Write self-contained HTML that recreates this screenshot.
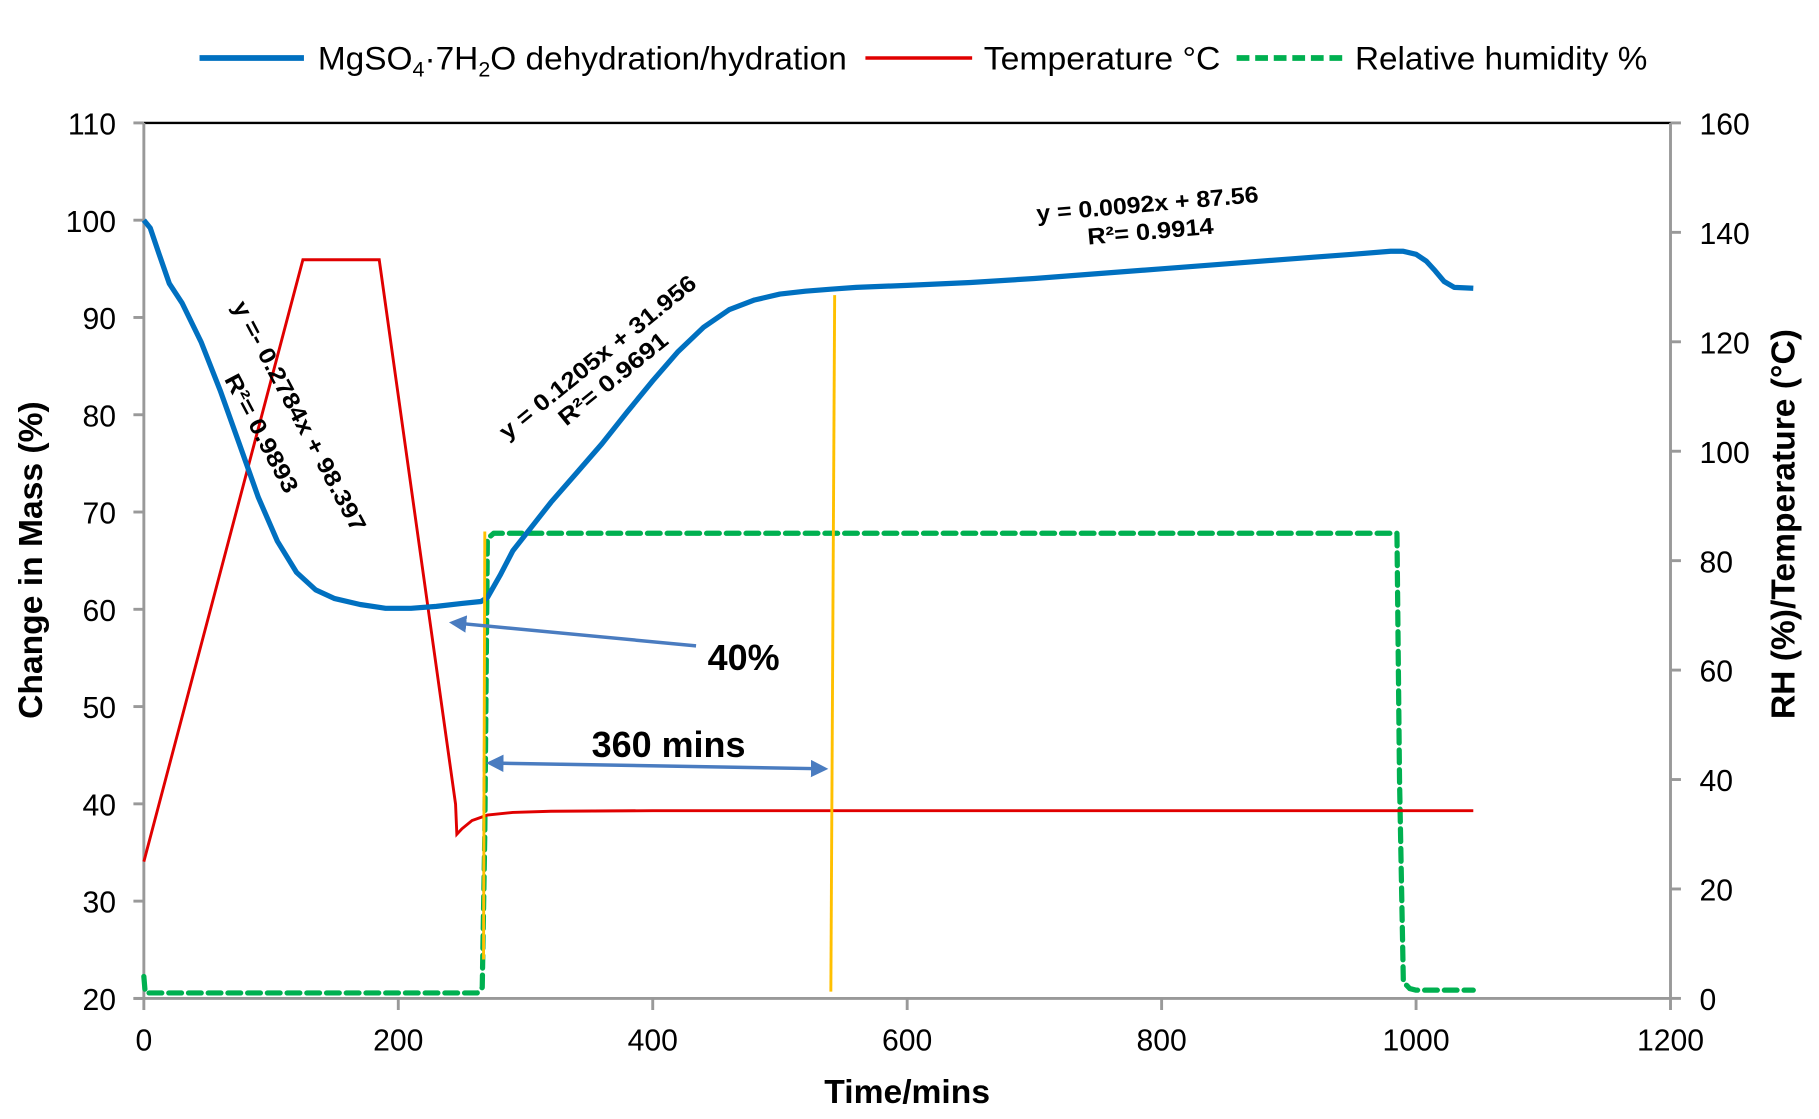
<!DOCTYPE html>
<html><head><meta charset="utf-8"><style>
html,body{margin:0;padding:0;background:#fff;}
svg{display:block;font-family:"Liberation Sans",Arial,sans-serif;}
</style></head><body>
<svg id="chart" width="1819" height="1119" viewBox="0 0 1568 965" preserveAspectRatio="none" xmlns="http://www.w3.org/2000/svg">
<defs>
<marker id="ah" viewBox="0 0 10 10" refX="8" refY="5" markerWidth="5" markerHeight="5" orient="auto-start-reverse"><path d="M0,0 L10,5 L0,10 z" fill="#4a7cc0"/></marker>
</defs>
<g id="legend">
<g><line x1="172" y1="50" x2="262" y2="50" stroke="#0070c0" stroke-width="5"/><text x="274" y="60" font-size="28" textLength="456" lengthAdjust="spacingAndGlyphs">MgSO<tspan font-size="18" dy="6">4</tspan><tspan dy="-6">·7H</tspan><tspan font-size="18" dy="6">2</tspan><tspan dy="-6">O dehydration/hydration</tspan></text></g>
<g><line x1="746" y1="50" x2="838" y2="50" stroke="#e00000" stroke-width="3"/><text x="848" y="60" font-size="28" textLength="204" lengthAdjust="spacingAndGlyphs">Temperature °C</text></g>
<g><line x1="1066" y1="50" x2="1158" y2="50" stroke="#00b050" stroke-width="5" stroke-dasharray="11,5"/><text x="1168" y="60" font-size="28" textLength="252" lengthAdjust="spacingAndGlyphs">Relative humidity %</text></g>
</g>
<g id="axes"></g>
<g id="series"></g>
<g id="annot"></g>
</svg>
<script>
const timeTicks=[0,200,400,600,800,1000,1200];
const massTicks=[20,30,40,50,60,70,80,90,100,110];
const rightTicks=[0,20,40,60,80,100,120,140,160];
const massT=[0,5,12,20,30,45,60,75,90,105,120,135,150,170,190,210,230,250,265,270,280,290,305,320,340,360,380,400,420,440,460,480,500,520,540,560,600,650,700,750,800,850,900,950,980,990,1000,1008,1015,1022,1030,1045];
const massV=[100,99.2,96.5,93.5,91.5,87.5,82.5,77,71.5,67,63.8,62,61.1,60.5,60.1,60.1,60.3,60.6,60.8,61.2,63.5,66,68.5,71,74,77,80.3,83.5,86.5,89,90.8,91.8,92.4,92.7,92.9,93.1,93.3,93.6,94,94.5,95,95.5,96,96.5,96.8,96.8,96.5,95.8,94.8,93.7,93.1,93];
const tempT=[0,125,185,245,246,250,258,270,290,320,400,600,800,1000,1045];
const tempV=[25,135,135,35.5,30,31,32.5,33.5,34,34.2,34.3,34.3,34.3,34.3,34.3];
const rhT=[0,1,2,10,262,266,268,270,275,985,987,990,995,1000,1045];
const rhV=[4,1.2,1,1,1,2,30,84,85,85,40,3,1.8,1.5,1.5];
const x0=124,x1=1440,yT=106,yB=861;
const X=t=>x0+t/1200*(x1-x0);
const YL=v=>yB-(v-20)/90*(yB-yT);
const YR=v=>yB-v/160*(yB-yT);
const NS="http://www.w3.org/2000/svg";
function mk(tag,attrs,parent,txt){const e=document.createElementNS(NS,tag);for(const k in attrs)e.setAttribute(k,attrs[k]);if(txt!==undefined)e.textContent=txt;parent.appendChild(e);return e;}
const axes=document.getElementById('axes'),ser=document.getElementById('series'),an=document.getElementById('annot');
let e;
e=mk('line',{x1:x0,y1:yT,x2:x1,y2:yT,stroke:'#000','stroke-width':2},axes);


e=mk('line',{x1:x0,y1:yT,x2:x0,y2:yB+1,stroke:'#999','stroke-width':2.5},axes);


e=mk('line',{x1:x1,y1:yT,x2:x1,y2:yB+1,stroke:'#999','stroke-width':2.5},axes);


e=mk('line',{x1:x0-9,y1:yB,x2:x1,y2:yB,stroke:'#999','stroke-width':2.5},axes);


timeTicks.forEach(t=>{mk('line',{x1:X(t),y1:yB,x2:X(t),y2:yB+10,stroke:'#999','stroke-width':2.5},axes);
e=mk('text',{x:X(t),y:yB+45,'font-size':26,'text-anchor':'middle'},axes,t);

});
massTicks.forEach(v=>{mk('line',{x1:x0-9,y1:YL(v),x2:x0,y2:YL(v),stroke:'#999','stroke-width':2.5},axes);
e=mk('text',{x:x0-24,y:YL(v)+10,'font-size':26,'text-anchor':'end'},axes,v);

});
rightTicks.forEach(v=>{mk('line',{x1:x1,y1:YR(v),x2:x1+9,y2:YR(v),stroke:'#999','stroke-width':2.5},axes);
e=mk('text',{x:x1+25,y:YR(v)+10,'font-size':26},axes,v);

});
e=mk('text',{x:782,y:951,'font-size':29,'font-weight':'bold','text-anchor':'middle'},axes,'Time/mins');


e=mk('text',{transform:'translate(36,483) rotate(-90)','font-size':29,'font-weight':'bold','text-anchor':'middle'},axes,'Change in Mass (%)');


e=mk('text',{transform:'translate(1547,452) rotate(-90)','font-size':29,'font-weight':'bold','text-anchor':'middle'},axes,'RH (%)/Temperature (°C)');


function pts(T,V,Y){return T.map((t,i)=>X(t).toFixed(1)+','+Y(V[i]).toFixed(1)).join(' ');}
e=mk('polyline',{points:pts(rhT,rhV,YR),fill:'none',stroke:'#00b050','stroke-width':4.5,'stroke-dasharray':'11,6','stroke-linejoin':'round','stroke-linecap':'round'},ser);


e=mk('polyline',{points:pts(tempT,tempV,YR),fill:'none',stroke:'#e00000','stroke-width':2.5},ser);


e=mk('polyline',{points:pts(massT,massV,YL),fill:'none',stroke:'#0070c0','stroke-width':4.5,'stroke-linejoin':'round'},ser);


e=mk('line',{x1:X(268),y1:YL(68),x2:X(267),y2:YL(24),stroke:'#ffc000','stroke-width':2.5},ser);


e=mk('line',{x1:X(543),y1:YL(92.3),x2:X(540),y2:YL(20.7),stroke:'#ffc000','stroke-width':2.5},ser);


e=mk('line',{x1:600,y1:557,x2:390,y2:537,stroke:'#4a7cc0','stroke-width':3,'marker-end':'url(#ah)'},an);


e=mk('line',{x1:422,y1:658,x2:711,y2:663,stroke:'#4a7cc0','stroke-width':3,'marker-end':'url(#ah)','marker-start':'url(#ah)'},an);


e=mk('text',{x:610,y:578,'font-size':31,'font-weight':'bold'},an,'40%');


e=mk('text',{x:510,y:653,'font-size':31,'font-weight':'bold'},an,'360 mins');


e=mk('text',{transform:'translate(894,191) rotate(-5)','font-size':20,'font-weight':'bold',textLength:192,lengthAdjust:'spacingAndGlyphs'},an,'y = 0.0092x + 87.56');


e=mk('text',{transform:'translate(938,211) rotate(-5)','font-size':20,'font-weight':'bold',textLength:109,lengthAdjust:'spacingAndGlyphs'},an,'R²= 0.9914');


e=mk('text',{transform:'translate(437,380) rotate(-39)','font-size':20,'font-weight':'bold',textLength:212,lengthAdjust:'spacingAndGlyphs'},an,'y = 0.1205x + 31.956');


e=mk('text',{transform:'translate(488,368) rotate(-39)','font-size':20,'font-weight':'bold',textLength:115,lengthAdjust:'spacingAndGlyphs'},an,'R²= 0.9691');


e=mk('text',{transform:'translate(200,264) rotate(62)','font-size':20,'font-weight':'bold',textLength:222,lengthAdjust:'spacingAndGlyphs'},an,'y =- 0.2784x + 98.397');


e=mk('text',{transform:'translate(193,327) rotate(62)','font-size':20,'font-weight':'bold',textLength:113,lengthAdjust:'spacingAndGlyphs'},an,'R²= 0.9893');


</script>
</body></html>
